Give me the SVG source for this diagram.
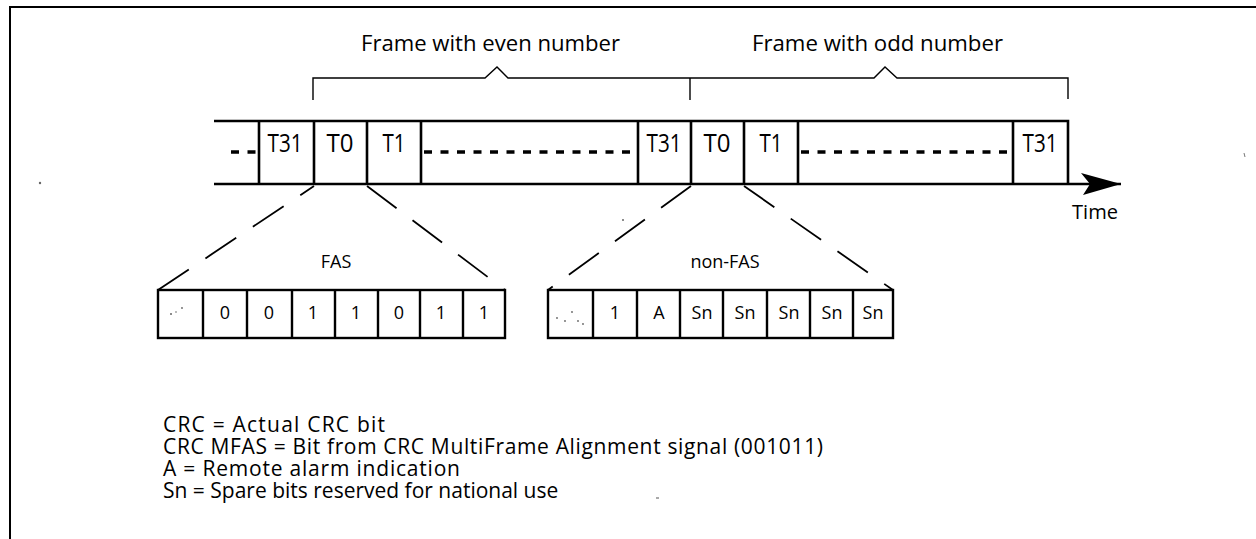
<svg xmlns="http://www.w3.org/2000/svg" width="1256" height="539" viewBox="0 0 1256 539">
  <style>
    .txt { font-family: "Open Sans", "DejaVu Sans", sans-serif; fill: #000; }
    .lbl { font-size: 22px; }
    .cell { font-size: 25px; text-anchor: middle; }
    .bit { font-size: 18px; text-anchor: middle; }
    .leg { font-size: 21px; }
    .band { stroke: #000; stroke-width: 2.6; fill: none; }
    .thin { stroke: #000; stroke-width: 1.4; fill: none; }
    .fan { stroke: #000; stroke-width: 1.8; stroke-dasharray: 37 20; fill: none; }
    .dots { stroke: #000; stroke-width: 3.5; stroke-dasharray: 8 8.5; fill: none; }
    .row { stroke: #000; stroke-width: 2.4; fill: #fff; }
    .speck { fill: #666; }
  </style>
  <defs>
    <marker id="arrowHead" markerUnits="userSpaceOnUse" markerWidth="44" markerHeight="24" refX="40" refY="11" orient="auto">
      <path d="M0,0 L40,11 L2,22 L9,11 Z" fill="#000"/>
    </marker>
  </defs>

  <rect width="1256" height="539" fill="#fff"/>

  <!-- page frame -->
  <path d="M10,539 V7 H1256" stroke="#000" stroke-width="2" fill="none"/>

  <!-- frame brackets -->
  <g id="brackets">
    <path class="thin" d="M313,100 V78 H485 L497,67 L508,78 H874 L885,67 L897,78 H1068 V99"/>
    <path class="thin" d="M690,78 V100"/>
    <text class="txt lbl" x="361" y="51" textLength="259" lengthAdjust="spacingAndGlyphs">Frame with even number</text>
    <text class="txt lbl" x="752" y="51" textLength="251" lengthAdjust="spacingAndGlyphs">Frame with odd number</text>
  </g>

  <!-- time-slot band -->
  <g id="band">
    <path class="band" d="M214,121 H1068 V184"/>
    <path class="band" d="M214,184 H1121" marker-end="url(#arrowHead)"/>
    <path class="band" d="M259,121 V184 M314,121 V184 M367,121 V184 M421,121 V184 M638,121 V184 M691,121 V184 M744,121 V184 M798,121 V184 M1013,121 V184"/>
    <path class="dots" d="M231,152 H257"/>
    <path class="dots" d="M424,152 H638"/>
    <path class="dots" d="M801,152 H1012"/>
  </g>
  <g id="slot-t31-a"><text class="txt cell" x="285" y="152" textLength="35" lengthAdjust="spacingAndGlyphs">T31</text></g>
  <g id="slot-t0-a"><text class="txt cell" x="340" y="152" textLength="27" lengthAdjust="spacingAndGlyphs">T0</text></g>
  <g id="slot-t1-a"><text class="txt cell" x="394" y="152" textLength="23" lengthAdjust="spacingAndGlyphs">T1</text></g>
  <g id="slot-t31-b"><text class="txt cell" x="664" y="152" textLength="35" lengthAdjust="spacingAndGlyphs">T31</text></g>
  <g id="slot-t0-b"><text class="txt cell" x="717" y="152" textLength="27" lengthAdjust="spacingAndGlyphs">T0</text></g>
  <g id="slot-t1-b"><text class="txt cell" x="771" y="152" textLength="23" lengthAdjust="spacingAndGlyphs">T1</text></g>
  <g id="slot-t31-c"><text class="txt cell" x="1040" y="152" textLength="35" lengthAdjust="spacingAndGlyphs">T31</text></g>
  <text class="txt" x="1072" y="219" font-size="20" textLength="46" lengthAdjust="spacingAndGlyphs">Time</text>

  <!-- expansion lines from T0 slots -->
  <g id="connectors">
    <path class="fan" d="M158,290 L314,186"/>
    <path class="fan" d="M367,186 L505,290"/>
    <path class="fan" d="M691,186 L548,290"/>
    <path class="fan" d="M744,186 L893,290"/>
  </g>

  <!-- FAS octet -->
  <g id="fas">
    <text class="txt bit" x="336" y="268" font-size="19">FAS</text>
    <rect class="row" x="158" y="290" width="347" height="48"/>
    <path class="row" d="M203,290 V338 M247,290 V338 M292,290 V338 M335,290 V338 M378,290 V338 M420,290 V338 M463,290 V338"/>
    <circle class="speck" cx="171" cy="314" r="1"/>
    <circle class="speck" cx="176" cy="312" r="0.8"/>
    <circle class="speck" cx="182" cy="308" r="0.9"/>
    <text class="txt bit" x="225" y="319">0</text>
    <text class="txt bit" x="269" y="319">0</text>
    <text class="txt bit" x="313" y="319">1</text>
    <text class="txt bit" x="356" y="319">1</text>
    <text class="txt bit" x="399" y="319">0</text>
    <text class="txt bit" x="441" y="319">1</text>
    <text class="txt bit" x="484" y="319">1</text>
  </g>

  <!-- non-FAS octet -->
  <g id="non-fas">
    <text class="txt bit" x="725" y="268" font-size="19">non-FAS</text>
    <rect class="row" x="548" y="290" width="345" height="48"/>
    <path class="row" d="M593,290 V338 M637,290 V338 M680,290 V338 M723,290 V338 M767,290 V338 M810,290 V338 M853,290 V338"/>
    <circle class="speck" cx="557" cy="318" r="0.9"/>
    <circle class="speck" cx="565" cy="321" r="0.9"/>
    <circle class="speck" cx="572" cy="312" r="0.9"/>
    <circle class="speck" cx="578" cy="321" r="0.9"/>
    <circle class="speck" cx="583" cy="324" r="0.9"/>
    <text class="txt bit" x="615" y="319">1</text>
    <text class="txt bit" x="659" y="319">A</text>
    <text class="txt bit" x="702" y="319">Sn</text>
    <text class="txt bit" x="745" y="319">Sn</text>
    <text class="txt bit" x="789" y="319">Sn</text>
    <text class="txt bit" x="832" y="319">Sn</text>
    <text class="txt bit" x="873" y="319">Sn</text>
  </g>

  <!-- legend -->
  <g id="legend">
    <text class="txt leg" x="163" y="432" textLength="222" lengthAdjust="spacing">CRC = Actual CRC bit</text>
    <text class="txt leg" x="163" y="454" textLength="660" lengthAdjust="spacing">CRC MFAS = Bit from CRC MultiFrame Alignment signal (001011)</text>
    <text class="txt leg" x="163" y="476" textLength="297" lengthAdjust="spacing">A = Remote alarm indication</text>
    <text class="txt leg" x="163" y="498">Sn = Spare bits reserved for national use</text>
  </g>

  <!-- stray marks on the sheet -->
  <circle class="speck" cx="40" cy="183" r="1.2"/>
  <circle class="speck" cx="623" cy="220" r="1"/>
  <path d="M1244,153 l1,4" stroke="#777" stroke-width="1"/>
  <path d="M656,498 h3" stroke="#555" stroke-width="1"/>
</svg>
